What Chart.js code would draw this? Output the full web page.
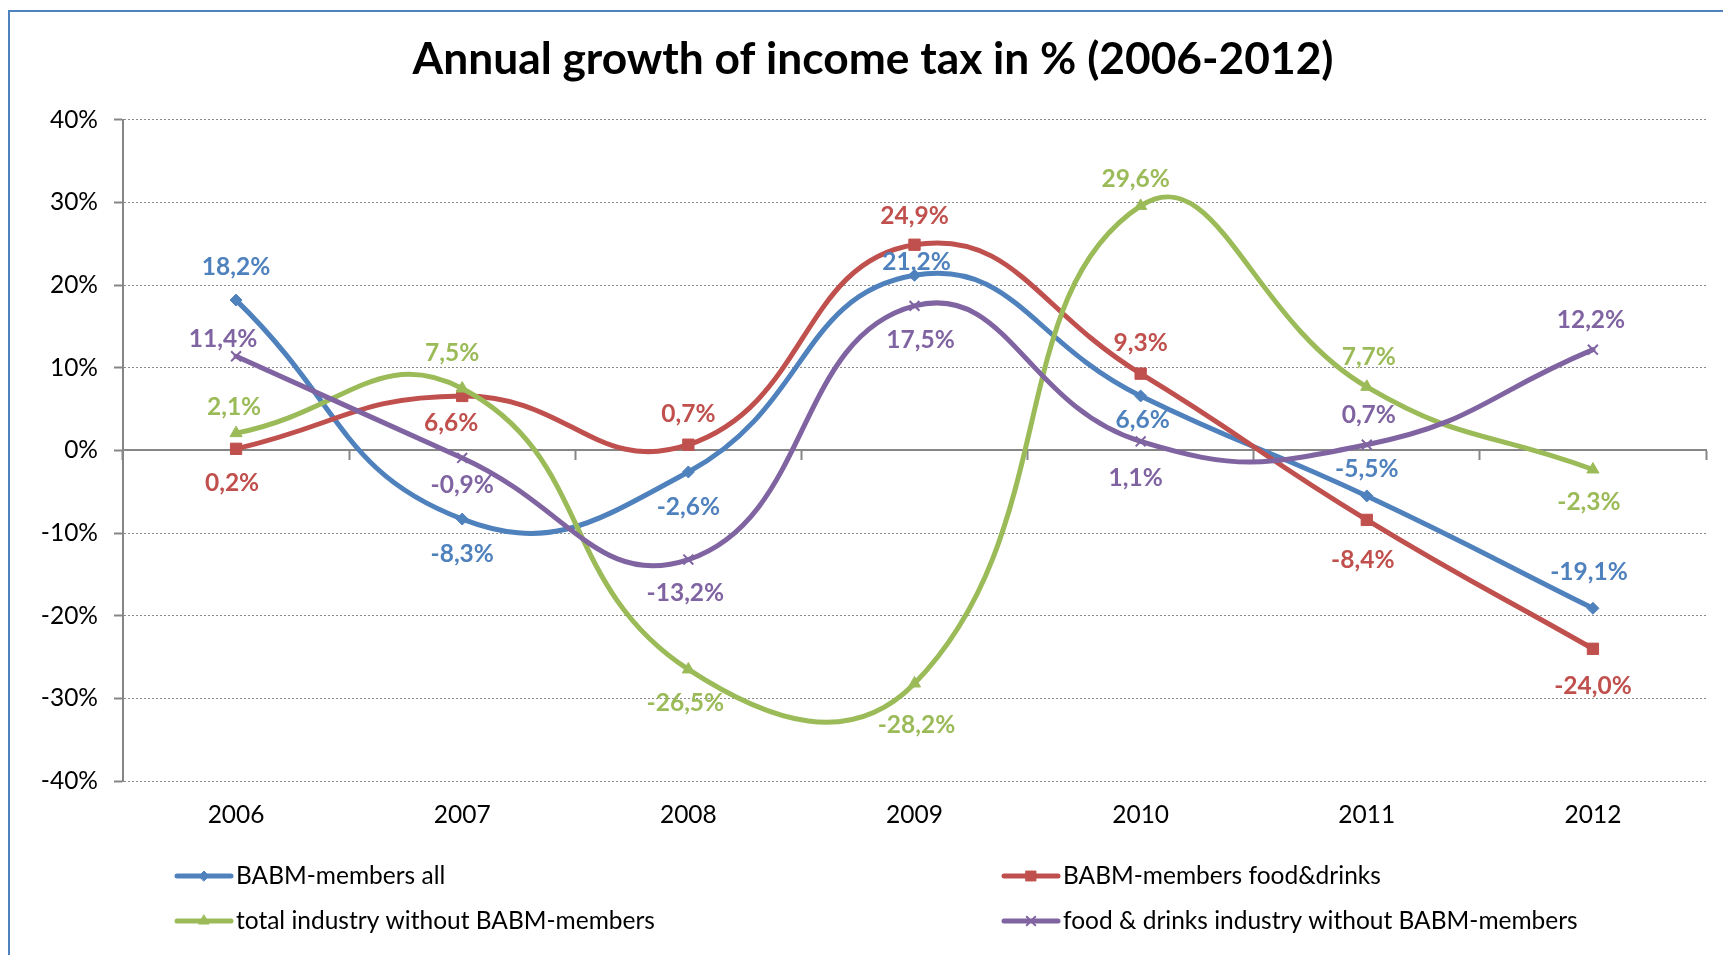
<!DOCTYPE html>
<html><head><meta charset="utf-8">
<script src="https://cdn.jsdelivr.net/npm/chart.js@4.4.1/dist/chart.umd.min.js"></script>
<style>
html,body{margin:0;padding:0;background:#fff;}
#wrap{position:relative;width:1723px;height:955px;overflow:hidden;}
#frame{position:absolute;left:8px;top:10px;width:1740px;height:970px;border:2px solid #4F81BD;box-sizing:border-box;pointer-events:none;}
canvas{position:absolute;left:0;top:0;}
</style></head><body>
<div id="wrap"><canvas id="c" width="1723" height="955"></canvas><div id="frame"></div></div>
<script>
// ---- data ----
const categories = ['2006','2007','2008','2009','2010','2011','2012'];
const seriesNames = ['BABM-members all','BABM-members food&drinks','total industry without BABM-members','food & drinks industry without BABM-members'];
const babmAll       = [18.2, -8.3,  -2.6,  21.2,  6.6, -5.5, -19.1];
const babmFood      = [ 0.2,  6.6,   0.7,  24.9,  9.3, -8.4, -24.0];
const totalIndustry = [ 2.1,  7.5, -26.5, -28.2, 29.6,  7.7,  -2.3];
const foodIndustry  = [11.4, -0.9, -13.2,  17.5,  1.1,  0.7,  12.2];
const yMin = -40, yMax = 40, yStep = 10;

// ---- data label placement (pixel offsets from each point) ----
const labelDy = [
  [-33, 35, 35, -13, 24, -27, -36],
  [ 34, 27, -31, -29, -31, 40, 37],
  [-26, -35, 34, 42, -27, -30, 33],
  [-17, 27, 34, 34, 37, -30, -30]
];
const labelDx = [
  [0, 0, 0, 2, 2, 0, -4],
  [-4, -11, 0, 0, 0, -4, 0],
  [-2, -10, -3, 2, -5, 2, -4],
  [-13, 0, -3, 6, -5, 2, -2]
];

const FONT = 'Lato, "Open Sans", sans-serif';
const colors = ['#4F81BD', '#C0504D', '#9BBB59', '#8064A2'];
const styles = ['rectRot', 'rect', 'triangle', 'crossRot'];
const radii = [6, 8, 7, 7];
const allData = [babmAll, babmFood, totalIndustry, foodIndustry];

const datasets = allData.map((d, i) => ({
  label: seriesNames[i],
  data: d,
  borderColor: colors[i],
  backgroundColor: colors[i],
  pointBackgroundColor: colors[i],
  pointBorderColor: colors[i],
  pointStyle: styles[i],
  pointRadius: radii[i],
  pointBorderWidth: styles[i] === 'crossRot' ? 2 : 1,
  borderWidth: 5,
  borderCapStyle: 'round',
  borderJoinStyle: 'round',
  tension: 0.47,
  fill: false,
  order: 3 - i
}));

const labelPlugin = {
  id: 'xlLabels',
  afterDatasetsDraw(chart) {
    const ctx = chart.ctx;
    chart.data.datasets.forEach((ds, i) => {
      const meta = chart.getDatasetMeta(i);
      meta.data.forEach((pt, j) => {
        const v = ds.data[j];
        const txt = v.toFixed(1).replace('.', ',') + '%';
        ctx.save();
        ctx.font = 'bold 24.5px ' + FONT;
        ctx.fillStyle = ds.borderColor;
        ctx.textAlign = 'center';
        ctx.textBaseline = 'middle';
        ctx.fillText(txt, pt.x + labelDx[i][j], pt.y + labelDy[i][j]);
        ctx.restore();
      });
    });
  }
};

const legendPlugin = {
  id: 'xlLegend',
  afterDraw(chart) {
    const { ctx, chartArea } = chart;
    const colX = [chartArea.left + 54, chartArea.left + 881];
    const rowY = [chartArea.bottom + 95, chartArea.bottom + 140];
    chart.data.datasets.forEach((ds, i) => {
      const x = colX[i % 2], y = rowY[Math.floor(i / 2)];
      ctx.save();
      ctx.strokeStyle = ds.borderColor;
      ctx.lineWidth = 5;
      ctx.lineCap = 'round';
      ctx.beginPath(); ctx.moveTo(x, y); ctx.lineTo(x + 54, y); ctx.stroke();
      ctx.fillStyle = ds.pointBackgroundColor;
      ctx.strokeStyle = ds.pointBorderColor;
      ctx.lineWidth = ds.pointBorderWidth;
      if (Chart.helpers && Chart.helpers.drawPoint) {
        Chart.helpers.drawPoint(ctx, { pointStyle: ds.pointStyle, radius: ds.pointRadius - 1, borderWidth: ds.pointBorderWidth, rotation: 0 }, x + 27, y);
      }
      ctx.fillStyle = '#000';
      ctx.font = '24.5px ' + FONT;
      ctx.textAlign = 'left';
      ctx.textBaseline = 'middle';
      ctx.fillText(ds.label, x + 59, y);
      ctx.restore();
    });
  }
};

new Chart(document.getElementById('c'), {
  type: 'line',
  data: { labels: categories, datasets },
  plugins: [labelPlugin, legendPlugin],
  options: {
    responsive: false,
    animation: false,
    layout: { padding: { left: 40, right: 17, top: 0, bottom: 104 } },
    plugins: {
      legend: { display: false },
      tooltip: { enabled: false },
      title: {
        display: true,
        text: 'Annual growth of income tax in % (2006-2012)',
        color: '#000',
        font: { family: FONT, size: 44.3, weight: 'bold', lineHeight: 1.2 },
        padding: { top: 33.4, bottom: 33.4 }
      }
    },
    scales: {
      x: {
        type: 'category',
        position: { y: 0 },
        offset: true,
        grid: { offset: true, drawOnChartArea: false, drawTicks: true, tickLength: 9, tickColor: '#868686', tickWidth: 2 },
        border: { display: true, color: '#868686', width: 2 },
        ticks: { display: false }
      },
      x2: {
        type: 'category',
        labels: categories,
        position: 'bottom',
        offset: true,
        grid: { display: false, drawTicks: false },
        border: { display: false },
        ticks: { color: '#000', font: { family: FONT, size: 24.5 }, padding: 19 },
        afterFit(s) { s.height = 70; }
      },
      y: {
        min: yMin, max: yMax,
        ticks: { stepSize: yStep, callback: v => v + '%', color: '#000', font: { family: FONT, size: 24.5 }, padding: 16 },
        grid: { color: '#8a8a8a', lineWidth: 1, tickLength: 9, tickColor: '#868686', tickWidth: 2, drawTicks: true },
        border: { display: true, color: '#868686', width: 2, dash: [2, 2] },
        afterFit(s) { s.width = 83; }
      }
    }
  }
});
</script>
</body></html>
